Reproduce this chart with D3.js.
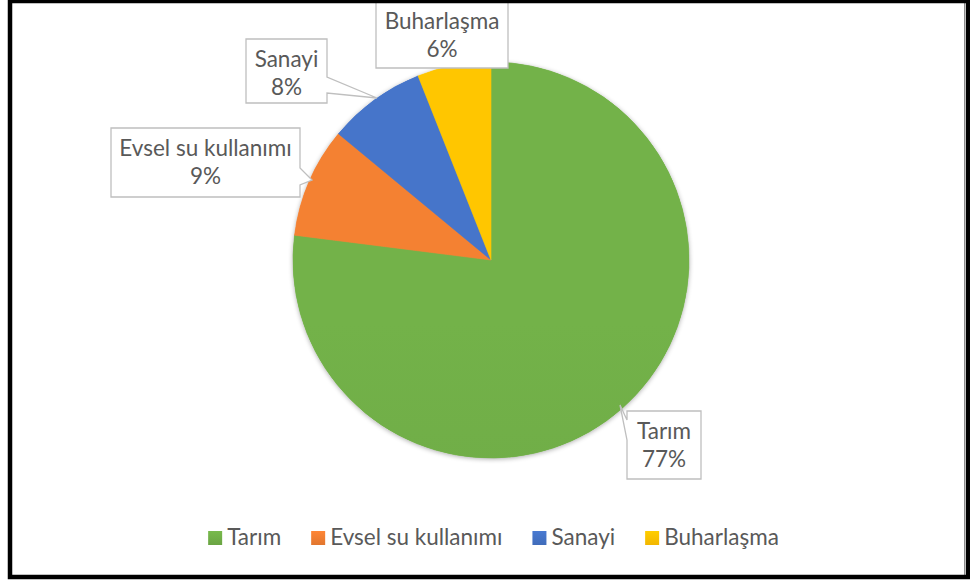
<!DOCTYPE html>
<html>
<head>
<meta charset="utf-8">
<script src="https://cdn.jsdelivr.net/npm/d3@7/dist/d3.min.js"></script>
<style>
  html, body { margin: 0; padding: 0; background: #fff; }
  svg { display: block; }
  text { font-family: Lato, "Open Sans", sans-serif; fill: #595959; }
</style>
</head>
<body>
<svg id="chart" width="970" height="581"></svg>
<script>
// Water use shares
const categories = ["Tarım", "Evsel su kullanımı", "Sanayi", "Buharlaşma"];
const values = [77, 9, 8, 6];
const percentLabels = ["77%", "9%", "8%", "6%"];
const colors = ["#70AD47", "#ED7D31", "#4472C4", "#FFC000"];

const W = 970, H = 581;
const cx = 491, cy = 260, R = 198;
const FONT = 22.5;

const svg = d3.select("#chart");
const defs = svg.append("defs");

// Subtle top-to-bottom shading for slices and legend keys
colors.forEach((c, i) => {
  const g = defs.append("linearGradient")
    .attr("id", "grad" + i).attr("x1", 0).attr("y1", 0).attr("x2", 0).attr("y2", 1);
  g.append("stop").attr("offset", "0%").attr("stop-color", d3.color(c).brighter(0.2));
  g.append("stop").attr("offset", "100%").attr("stop-color", d3.color(c).darker(0.15));
});
const pieGrad = colors.map((c, i) => {
  const g = defs.append("linearGradient")
    .attr("id", "pgrad" + i).attr("gradientUnits", "userSpaceOnUse")
    .attr("x1", 0).attr("y1", cy - R).attr("x2", 0).attr("y2", cy + R);
  g.append("stop").attr("offset", "0%").attr("stop-color", d3.color(c).brighter(0.08));
  g.append("stop").attr("offset", "100%").attr("stop-color", d3.color(c).darker(0.1));
  return "url(#pgrad" + i + ")";
});

const shadow = defs.append("filter").attr("id", "soft")
  .attr("x", "-10%").attr("y", "-10%").attr("width", "120%").attr("height", "120%");
shadow.append("feGaussianBlur").attr("in", "SourceAlpha").attr("stdDeviation", 2.5).attr("result", "b");
shadow.append("feOffset").attr("in", "b").attr("dx", 0).attr("dy", 1).attr("result", "o");
shadow.append("feComponentTransfer").attr("in", "o").attr("result", "s")
  .append("feFuncA").attr("type", "linear").attr("slope", 0.35);
const merge = shadow.append("feMerge");
merge.append("feMergeNode").attr("in", "s");
merge.append("feMergeNode").attr("in", "SourceGraphic");

svg.append("rect").attr("width", W).attr("height", H).attr("fill", "#fff");

// Pie
const data = categories.map((c, i) => ({ name: c, value: values[i], pct: percentLabels[i], i }));
const pie = d3.pie().value(d => d.value).sort(null);
const arc = d3.arc().innerRadius(0).outerRadius(R);
const arcs = pie(data);

svg.append("g").attr("transform", `translate(${cx},${cy})`)
  .attr("filter", "url(#soft)")
  .selectAll("path").data(arcs).join("path")
  .attr("d", arc)
  .attr("fill", d => colors[d.data.i]);
svg.append("g").selectAll("path").data(arcs).join("path")
  .attr("transform", `translate(${cx},${cy})`)
  .attr("d", arc)
  .attr("fill", d => pieGrad[d.data.i])
  .attr("stroke", d => pieGrad[d.data.i]).attr("stroke-width", 0.6);

// Callouts: box rectangle plus pointer toward its slice
const callouts = [
  { box: [627, 411, 701, 479], tip: [620, 405], side: "left", base: [420, 440] },
  { box: [111, 128, 300, 197], tip: [312, 180], side: "right", base: [168, 185] },
  { box: [246, 39, 327, 103], tip: [377, 98], side: "right", base: [77, 93] },
  { box: [376, 0.5, 508, 68], tip: null }
];

const gLab = svg.append("g");
data.forEach((d, i) => {
  const c = callouts[i];
  const [x0, y0, x1, y1] = c.box;
  let p;
  if (c.side === "right") {
    p = `M${x0},${y0}H${x1}V${c.base[0]}L${c.tip[0]},${c.tip[1]}L${x1},${c.base[1]}V${y1}H${x0}Z`;
  } else if (c.side === "left") {
    p = `M${x0},${y0}H${x1}V${y1}H${x0}V${c.base[1]}L${c.tip[0]},${c.tip[1]}L${x0},${c.base[0]}Z`;
  } else {
    p = `M${x0},${y0}H${x1}V${y1}H${x0}Z`;
  }
  gLab.append("path").attr("d", p)
    .attr("fill", "#fff").attr("stroke", "#bfbfbf").attr("stroke-width", 1.3);
  const mx = (x0 + x1) / 2;
  gLab.append("text").attr("x", mx).attr("y", y0 + 28).attr("text-anchor", "middle")
    .attr("font-size", FONT).text(d.name);
  gLab.append("text").attr("x", mx).attr("y", y0 + 56).attr("text-anchor", "middle")
    .attr("font-size", FONT).text(d.pct);
});

// Legend
const gLeg = svg.append("g");
const sw = 14, pad = 5, gap = 30, legBase = 545;
const items = data.map(d => {
  const g = gLeg.append("g");
  g.append("rect").attr("width", sw).attr("height", sw).attr("y", legBase - sw)
    .attr("fill", `url(#grad${d.i})`);
  const t = g.append("text").attr("x", sw + pad).attr("y", legBase)
    .attr("font-size", FONT).text(d.name);
  return { g, w: sw + pad + t.node().getComputedTextLength() };
});
const total = d3.sum(items, it => it.w) + gap * (items.length - 1);
let lx = 493.5 - total / 2;
items.forEach(it => { it.g.attr("transform", `translate(${lx},0)`); lx += it.w + gap; });

// Outer frame
svg.append("rect").attr("x", 8.5).attr("y", 1).attr("width", 956).attr("height", 576)
  .attr("fill", "none").attr("stroke", "#8c8c8c").attr("stroke-width", 1);
svg.append("rect").attr("x", 10).attr("y", 1).attr("width", 958).attr("height", 576)
  .attr("fill", "none").attr("stroke", "#000").attr("stroke-width", 4.5);
</script>
</body>
</html>
